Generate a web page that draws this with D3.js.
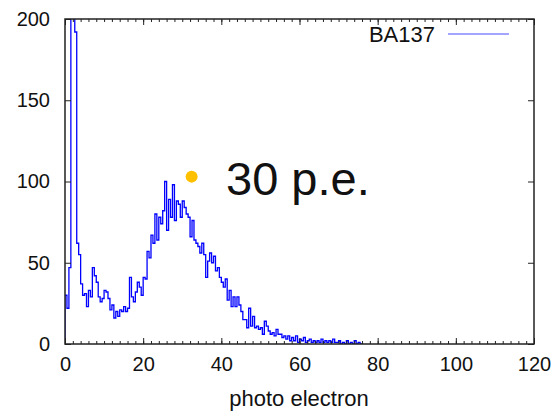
<!DOCTYPE html>
<html>
<head>
<meta charset="utf-8">
<script src="https://cdn.jsdelivr.net/npm/d3@7"></script>
<style>
body { margin: 0; background: #fff; }
text { font-family: "Liberation Sans", Arial, sans-serif; fill: #111; }
</style>
</head>
<body>
<svg id="chart"></svg>
<script>
var w = 559;
var h = 412;

// histogram: bin width in p.e., counts per bin starting at 0
var binWidth = 0.5;
var counts = [
  30, 22, 47, 250, 260, 192, 62, 55, 37, 30,
  31, 23, 33, 29, 47, 42, 38, 29, 26, 28,
  33, 32, 28, 21, 24, 16, 20, 17, 21, 20,
  23, 20, 22, 41, 29, 26, 32, 38, 35, 30,
  41, 40, 57, 53, 67, 62, 80, 64, 78, 74,
  82, 100, 70, 89, 78, 98, 76, 88, 86, 78,
  88, 84, 80, 78, 66, 76, 64, 62, 60, 56,
  62, 55, 41, 51, 56, 50, 54, 45, 47, 41,
  38, 35, 40, 27, 33, 23, 29, 23, 29, 24,
  20, 15, 15, 10, 22, 11, 17, 10, 11, 9,
  10, 6, 14, 11, 8, 6, 7, 5, 9, 6,
  6, 4, 5, 3, 5, 2, 4, 2, 5, 1,
  3, 2, 4, 1, 2, 3, 1, 2, 1, 2,
  1, 3, 1, 2, 1, 2, 1, 3, 1, 1,
  2, 0, 1, 0, 2, 0, 1, 0, 2, 0,
  1, 0
];

var xTicks = [0, 20, 40, 60, 80, 100, 120];
var xMinorTicks = d3.range(0, 121, 2);
var yTicks = [0, 50, 100, 150, 200];

var seriesName = "BA137";
var xLabel = "photo electron";
var noteText = "30 p.e.";
var notePoint = [32.4, 103];

var svg = d3.select('#chart')
  .attr('width', w)
  .attr('height', h);

var x = d3.scaleLinear().domain([0, 120]).range([65, 534]);
var y = d3.scaleLinear().domain([0, 200]).range([344, 19]);

svg.append('clipPath').attr('id', 'plot-clip')
  .append('rect')
  .attr('x', x(0)).attr('y', y(200))
  .attr('width', x(120) - x(0)).attr('height', y(0) - y(200));

// histogram steps
var pts = [[0, 0]];
counts.forEach(function (c, i) { pts.push([i * binWidth, c]); });
pts.push([counts.length * binWidth, 0]);

var line = d3.line()
  .x(function (d) { return x(d[0]); })
  .y(function (d) { return y(d[1]); })
  .curve(d3.curveStepAfter);

svg.append('path')
  .datum(pts)
  .attr('clip-path', 'url(#plot-clip)')
  .attr('fill', 'none')
  .attr('stroke', '#0000ff')
  .attr('stroke-width', 1.3)
  .attr('d', line);

// axes, ticks pointing inward on all four sides
function styleAxis(g) {
  g.select('.domain').remove();
  g.selectAll('line').attr('stroke', '#222').attr('stroke-width', 1);
  g.selectAll('text').attr('font-size', 20).attr('fill', '#111')
    .style('font-family', '"Liberation Sans", Arial, sans-serif');
}

svg.append('g').attr('transform', 'translate(0,' + y(0) + ')')
  .call(d3.axisBottom(x).tickValues(xMinorTicks).tickSize(-3).tickFormat(''))
  .call(styleAxis);
svg.append('g').attr('transform', 'translate(0,' + y(0) + ')')
  .call(d3.axisBottom(x).tickValues(xTicks).tickSize(-6).tickPadding(13).tickFormat(d3.format('d')))
  .call(styleAxis);

svg.append('g').attr('transform', 'translate(0,' + y(200) + ')')
  .call(d3.axisTop(x).tickValues(xMinorTicks).tickSize(-3).tickFormat(''))
  .call(styleAxis);
svg.append('g').attr('transform', 'translate(0,' + y(200) + ')')
  .call(d3.axisTop(x).tickValues(xTicks).tickSize(-6).tickFormat(''))
  .call(styleAxis);

svg.append('g').attr('transform', 'translate(' + x(0) + ',0)')
  .call(d3.axisLeft(y).tickValues(yTicks).tickSize(-6).tickPadding(15))
  .call(styleAxis);
svg.append('g').attr('transform', 'translate(' + x(120) + ',0)')
  .call(d3.axisRight(y).tickValues(yTicks).tickSize(-6).tickFormat(''))
  .call(styleAxis);

// frame
svg.append('rect')
  .attr('x', x(0)).attr('y', y(200))
  .attr('width', x(120) - x(0)).attr('height', y(0) - y(200))
  .attr('fill', 'none')
  .attr('stroke', '#222')
  .attr('stroke-width', 1.5);

// axis title
svg.append('text')
  .attr('x', 299).attr('y', 406)
  .attr('text-anchor', 'middle')
  .attr('font-size', 22)
  .text(xLabel);

// legend
svg.append('text')
  .attr('x', 435).attr('y', 42)
  .attr('text-anchor', 'end')
  .attr('font-size', 22)
  .text(seriesName);
svg.append('line')
  .attr('x1', 448).attr('x2', 509)
  .attr('y1', 34).attr('y2', 34)
  .attr('stroke', '#4a4aff')
  .attr('stroke-width', 1);

// annotation
svg.append('circle')
  .attr('cx', x(notePoint[0])).attr('cy', y(notePoint[1]))
  .attr('r', 6)
  .attr('fill', '#ffc000');
svg.append('text')
  .attr('x', 226).attr('y', 195)
  .attr('font-size', 47)
  .attr('fill', '#000')
  .text(noteText);
</script>
</body>
</html>
